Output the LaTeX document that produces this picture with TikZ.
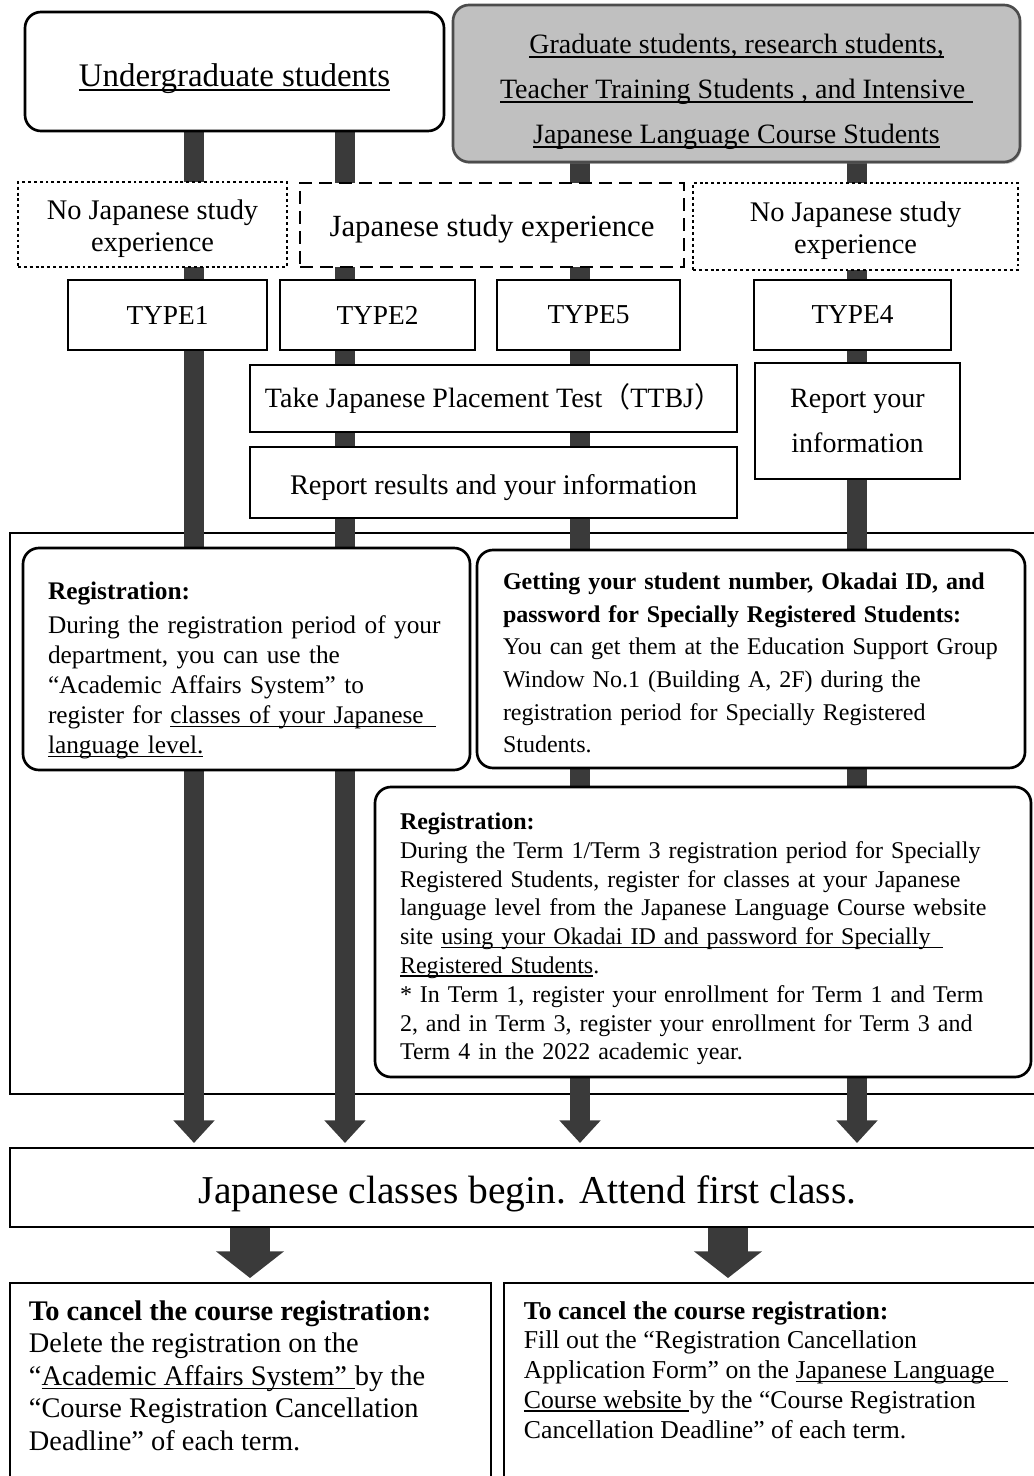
\documentclass[tikz,border=0pt]{standalone}
\usepackage{fontspec}
\setmainfont{Liberation Serif}
\newfontfamily\cjk{Noto Sans CJK JP}
\usetikzlibrary{arrows.meta,shadows,backgrounds}

\definecolor{barcol}{HTML}{3A3A3A}
\definecolor{gradgray}{HTML}{C0C0C0}
\newcommand{\fsz}[2]{\fontsize{#1}{#2}\selectfont}
\newcommand{\uln}[1]{\leavevmode\setbox0=\hbox{#1}\rlap{\rule[-0.14em]{\wd0}{1.1pt}}\box0}

\tikzset{
  box/.style={draw=black, line width=2pt, fill=white, inner sep=0pt, align=center},
  rbox/.style={box, rounded corners=12pt},
  dotbox/.style={box, line width=2pt, dash pattern=on 2.2pt off 2.2pt},
  dashbox/.style={box, line width=2pt, dash pattern=on 10pt off 5pt},
  txt/.style={inner sep=0pt, align=center},
  sz/.style 2 args={minimum width=#1*0.75pt, minimum height=#2*0.75pt},
  bar/.style={line width=15pt, draw=barcol, -{Triangle[width=30pt,length=17pt]}},
  fatbar/.style={line width=30pt, draw=barcol, -{Triangle[width=50pt,length=20pt]}},
}

\begin{document}
\begin{tikzpicture}[x=0.75pt,y=-0.75pt]
\useasboundingbox (0,0) rectangle (1033,1476);

%-------------- students --------------------
\node[rbox, sz={419}{119}] (under) at (234.5,71.5) {};
\node[txt, font=\fsz{24.7pt}{28pt}] (underT) at ([yshift=-5pt]under.center)
  {\uln{Undergraduate students}};

\node[rbox, sz={567}{157}, fill=gradgray, draw=black!70,
  drop shadow={shadow xshift=1pt, shadow yshift=-1.5pt, opacity=.4}]
  (grad) at (736.5,83.5) {};
\node[txt, font=\fsz{21pt}{33.75pt}] (gradT) at ([yshift=-6.5pt]grad.center)
  {\uln{Graduate students, research students,}\\
   \uln{Teacher Training Students , and Intensive\hphantom{i}}\\
   \uln{Japanese Language Course Students}};

%-------------- experience --------------------
\node[dotbox, sz={269}{85}] (noexpL) at (152.5,224.5) {};
\node[txt, font=\fsz{21.3pt}{24pt}] (noexpLT) at ([yshift=-3pt]noexpL.center)
  {No Japanese study\\experience};
\node[dashbox, sz={384}{84}] (exp) at (492,225) {};
\node[txt, font=\fsz{23.1pt}{27pt}] (expT) at ([yshift=-3pt]exp.center)
  {Japanese study experience};
\node[dotbox, sz={325}{87}] (noexpR) at (855.5,226.5) {};
\node[txt, font=\fsz{21.3pt}{24pt}] (noexpRT) at ([yshift=-3.5pt]noexpR.center)
  {No Japanese study\\experience};

%-------------- types --------------------
\node[box, sz={199}{70}, font=\fsz{20.5pt}{24pt}] (type1) at (167.5,315) {TYPE1};
\node[box, sz={195}{70}, font=\fsz{20.5pt}{24pt}] (type2) at (377.5,315) {TYPE2};
\node[box, sz={183}{70}, font=\fsz{20.5pt}{24pt}] (type5) at (588.5,315) {TYPE5};
\node[box, sz={197}{70}, font=\fsz{20.5pt}{24pt}] (type4) at (852.5,315) {TYPE4};

%-------------- test and report --------------------
\node[box, sz={487}{67}, font=\fsz{21pt}{25pt}] (ttbj) at (493.5,398.5)
  {Take Japanese Placement Test{\cjk （}TTBJ{\cjk ）}};
\node[box, sz={487}{71}] (report) at (493.5,482.5) {};
\node[txt, font=\fsz{21.3pt}{25pt}] (reportT) at ([yshift=-3.5pt]report.center)
  {Report results and your information};
\node[box, sz={205}{116}, font=\fsz{21pt}{33.75pt}] (info) at (857.5,421)
  {Report your\\information};

%-------------- registration --------------------
\node[rbox, sz={447}{222}] (regL) at (246.5,659) {};
\node[txt, text width=297.75pt, align=left, font=\fsz{19pt}{22.5pt}]
  (regLT) at ([yshift=-8.75pt]regL.center)
  {\textbf{Registration:}\\[3pt]
   During the registration period of your\\
   department, you can use the\\
   “Academic Affairs System” to\\
   register for \uln{classes of your Japanese\hphantom{n}}\\
   \uln{language level.}};
\node[rbox, sz={548}{218}] (getid) at (751,659) {};
\node[txt, text width=372pt, align=left, font=\fsz{18pt}{24.5pt}]
  (getidT) at ([yshift=-3pt]getid.center)
  {\textbf{Getting your student number, Okadai ID, and}\\
   \textbf{password for Specially Registered Students:}\\
   You can get them at the Education Support Group\\
   Window No.1 (Building A, 2F) during the\\
   registration period for Specially Registered\\
   Students.};
\node[rbox, sz={656}{290}] (regR) at (703,932) {};
\node[txt, text width=454.5pt, align=left, font=\fsz{18pt}{21.6pt}]
  (regRT) at ([yshift=-5.25pt]regR.center)
  {\textbf{Registration:}\\
   During the Term 1/Term 3 registration period for Specially\\
   Registered Students, register for classes at your Japanese\\
   language level from the Japanese Language Course website\\
   site \uln{using your Okadai ID and password for Specially\hphantom{n}}\\
   \uln{Registered Students}.\\
   {*} In Term 1, register your enrollment for Term 1 and Term\\
   2, and in Term 3, register your enrollment for Term 3 and\\
   Term 4 in the 2022 academic year.};

%-------------- classes --------------------
\node[box, sz={1035}{79}] (classes) at (527.5,1187.5) {};
\node[txt, font=\fsz{29.6pt}{34pt}] (classesT) at ([yshift=-4.5pt]classes.center)
  {Japanese classes begin. Attend first class.};

%-------------- cancel --------------------
\node[box, sz={481}{207}] (cancelL) at (250.5,1386.5) {};
\node[box, sz={541}{207}] (cancelR) at (774.5,1386.5) {};
\node[anchor=north west, inner sep=0pt, align=left, font=\fsz{21.3pt}{24.4pt}]
  (cancelLT) at ([xshift=15pt,yshift=-14pt]cancelL.north west)
  {\textbf{To cancel the course registration:}\\
   Delete the registration on the\\
   “\uln{Academic Affairs System”\hphantom{i}}by the\\
   “Course Registration Cancellation\\
   Deadline” of each term.};
\node[anchor=north west, inner sep=0pt, align=left, font=\fsz{19.3pt}{22.3pt}]
  (cancelRT) at ([xshift=15.75pt,yshift=-14.5pt]cancelR.north west)
  {\textbf{To cancel the course registration:}\\
   Fill out the “Registration Cancellation\\
   Application Form” on the \uln{Japanese Language\hphantom{n}}\\
   \uln{Course website\hphantom{i}}by the “Course Registration\\
   Cancellation Deadline” of each term.};

%-------------- bars --------------------
\coordinate (t1) at (194,1143);
\coordinate (t2) at (345,1143);
\coordinate (t3) at (580,1143);
\coordinate (t4) at (857,1143);
\coordinate (d1) at (250,1278);
\coordinate (d2) at (728,1278);

\begin{pgfonlayer}{background}
\draw[line width=2pt] (10,533) rectangle (1045,1094);
\draw[bar] (under.south -| t1) -- (t1);
\draw[bar] (under.south -| t2) -- (t2);
\draw[bar] (grad.south -| t3) -- (t3);
\draw[bar] (grad.south -| t4) -- (t4);
\end{pgfonlayer}

\draw[fatbar] (classes.south -| d1) -- (d1);
\draw[fatbar] (classes.south -| d2) -- (d2);

\end{tikzpicture}
\end{document}
